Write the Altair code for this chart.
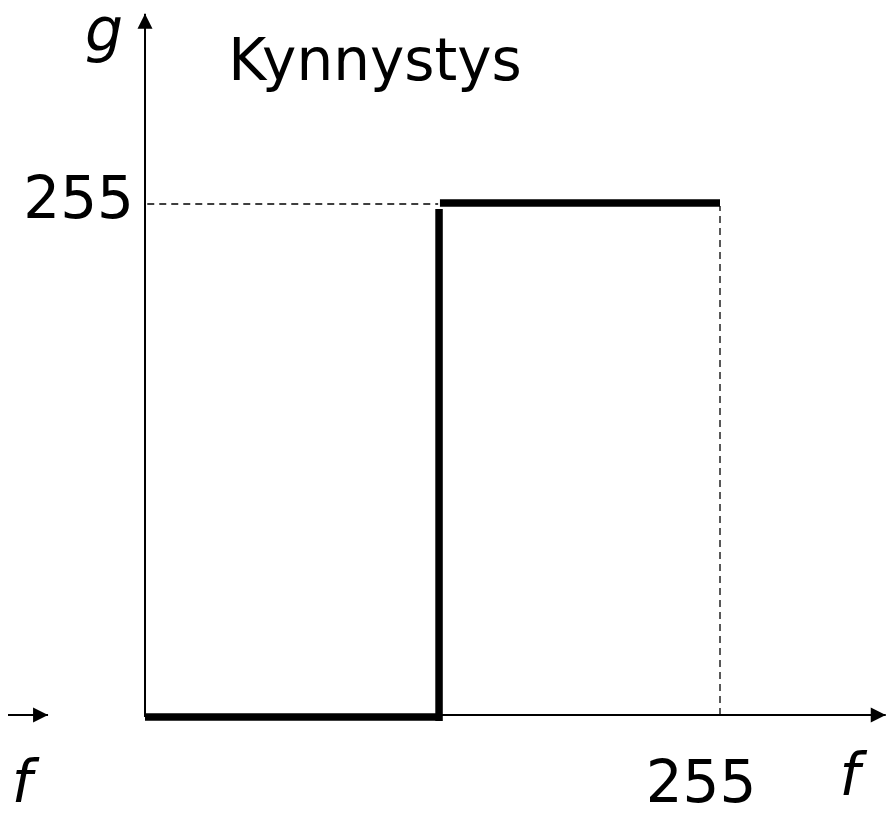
import altair as alt
import pandas as pd

# ---- values ----
title_text = "Kynnystys"
x_name = "f"
y_name = "g"
max_level = 255          # 255 on both axes
threshold = 130          # step position on f

# threshold function: three thick segments (f1,g1)->(f2,g2)
seg_f1 = [0, 130.4, 130.8]
seg_f2 = [131.3, 130.4, 255]
seg_g1 = [-1, -3, 255.5]
seg_g2 = [-1, 252.5, 255.5]

# dashed guide lines
guide_f1 = [1, 255]
guide_f2 = [130, 255]
guide_g1 = [255, 0]
guide_g2 = [255, 254]

# axis extents (arrow tips) and the cut-off arrow on the left
x_axis_end = 328.5
y_axis_end = 350
left_arrow_start = -61
left_arrow_end = -43

# ---- scales ----
W, H = 879, 796
xs = alt.Scale(domain=[-60.76, 329.06], nice=False, zero=False)
ys = alt.Scale(domain=[-44.41, 352.81], nice=False, zero=False)

segs = pd.DataFrame({"f1": seg_f1, "f2": seg_f2, "g1": seg_g1, "g2": seg_g2})
guides = pd.DataFrame({"f1": guide_f1, "f2": guide_f2, "g1": guide_g1, "g2": guide_g2})
axes = pd.DataFrame({
    "f1": [0, 0, left_arrow_start],
    "f2": [0, x_axis_end, left_arrow_end],
    "g1": [-1, 0, 0],
    "g2": [y_axis_end, 0, 0],
})


def rule_enc(ch):
    return ch.encode(
        x=alt.X("f1:Q", scale=xs, axis=None),
        x2="f2:Q",
        y=alt.Y("g1:Q", scale=ys, axis=None),
        y2="g2:Q",
    )


axis_layer = rule_enc(alt.Chart(axes).mark_rule(color="black", strokeWidth=2))
guide_layer = rule_enc(alt.Chart(guides).mark_rule(color="black", strokeWidth=1.3, strokeDash=[7, 5]))
step_layer = rule_enc(alt.Chart(segs).mark_rule(color="black", strokeWidth=7.5, strokeCap="butt"))

arrow_right = "M 0 0 L -2 -1 L -2 1 Z"
arrow_up = "M 0 0 L -1 2 L 1 2 Z"

heads_r = pd.DataFrame({"f": [x_axis_end, left_arrow_end], "g": [0, 0]})
heads_u = pd.DataFrame({"f": [0], "g": [y_axis_end]})


def head(df, shape):
    return alt.Chart(df).mark_point(
        shape=shape, size=225, filled=True, color="black", opacity=1, strokeWidth=0
    ).encode(
        x=alt.X("f:Q", scale=xs, axis=None),
        y=alt.Y("g:Q", scale=ys, axis=None),
    )


FONT = "DejaVu Sans"


def label(text, f, g, dx, dy, align="center", italic=False, size=57):
    df = pd.DataFrame({"f": [f], "g": [g], "t": [text]})
    return alt.Chart(df).mark_text(
        font=FONT, fontSize=size, fontStyle="italic" if italic else "normal",
        align=align, baseline="alphabetic", dx=dx, dy=dy, color="black",
    ).encode(
        x=alt.X("f:Q", scale=xs, axis=None),
        y=alt.Y("g:Q", scale=ys, axis=None),
        text="t:N",
    )


texts = [
    label(y_name, 0, y_axis_end, -41, 37, italic=True, size=60),
    label(title_text, 0, y_axis_end, 230, 66, size=58),
    label(str(max_level), 0, max_level, -11, 14, align="right", size=58),
    label(str(max_level), max_level, 0, -19, 87, size=58),
    label(x_name, x_axis_end, 0, -36, 80, italic=True, size=58),
    label(x_name, left_arrow_end, 0, -26, 87, italic=True, size=58),
]

chart = alt.layer(
    guide_layer, axis_layer, step_layer,
    head(heads_r, arrow_right), head(heads_u, arrow_up),
    *texts,
).properties(
    width=W, height=H, padding=0, autosize="none", background="white"
).configure_view(stroke=None)

chart.save("out.html", embed_options={"renderer": "svg", "actions": False})
